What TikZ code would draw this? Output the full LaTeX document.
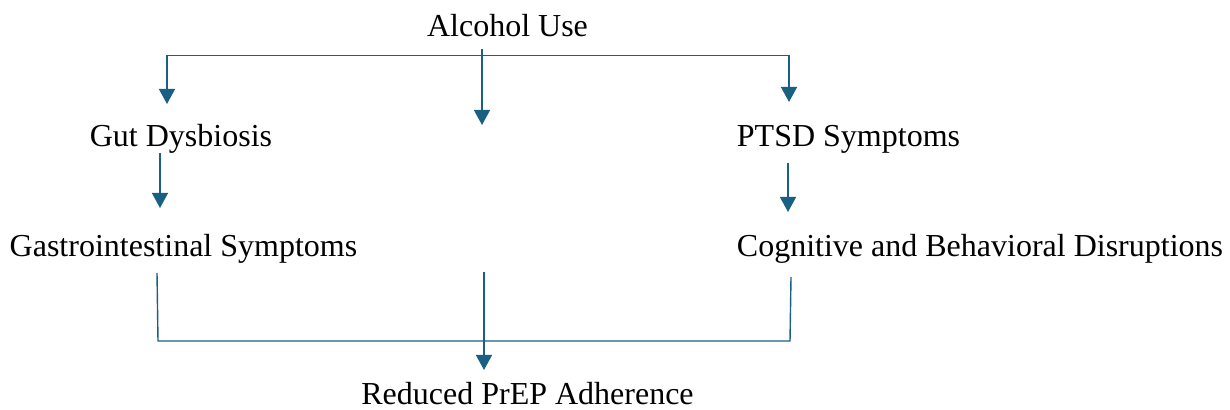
\documentclass[tikz,border=0pt]{standalone}
\usepackage{fontspec}
\setmainfont{Liberation Serif}
\usetikzlibrary{arrows.meta}
\definecolor{linkblue}{RGB}{25,96,130}

\begin{document}
\begin{tikzpicture}[x=0.5pt,y=-0.5pt]
            \tikzset{every node/.style={inner sep=0pt,anchor=base,font=\fontsize{16}{19}\selectfont},
                link/.style={draw=linkblue,line width=0.7pt},
                arrow/.style={link,-{Triangle[width=8pt,length=7.5pt]}}}
            \useasboundingbox (0,0) rectangle (1230,410);
            \node (alc) at (507.5,37) {Alcohol Use};
            \node (gut) at (181,147) {Gut Dysbiosis};
            \node (ptsd) at (848.5,147) {PTSD Symptoms};
            \node (gi) at (183.5,257) {Gastrointestinal Symptoms};
            \node (cog) at (980,257) {Cognitive and Behavioral Disruptions};
            \node (prep) at (527.5,405) {Reduced PrEP Adherence};
            % top split
            \coordinate (alcout) at (482,49);
            \coordinate (splitl) at (167,55.5);
            \coordinate (splitr) at (789,55.5);
            \coordinate (gutin) at (167,104);
            \coordinate (midin) at (482,125);
            \coordinate (ptsdin) at (789,102);
            \draw [link] (splitl) -- (splitr);
            \draw [arrow] (alcout) -- (midin);
            \draw [arrow] (splitl) -- (gutin);
            \draw [arrow] (splitr) -- (ptsdin);
            % second row
            \coordinate (gutout) at (160,153);
            \coordinate (giin) at (160,208);
            \coordinate (ptsdout) at (788,163);
            \coordinate (cogin) at (788,212);
            \draw [arrow] (gutout) -- (giin);
            \draw [arrow] (ptsdout) -- (cogin);
            % bottom join
            \coordinate (giout) at (157,273);
            \coordinate (joinl) at (158,341);
            \coordinate (joinr) at (790,341);
            \coordinate (cogout) at (791,277);
            \coordinate (midout) at (484,272);
            \coordinate (prepin) at (484,370);
            \draw [link] (giout) -- (joinl) -- (joinr) -- (cogout);
            \draw [arrow] (midout) -- (prepin);
        \end{tikzpicture}
\end{document}
